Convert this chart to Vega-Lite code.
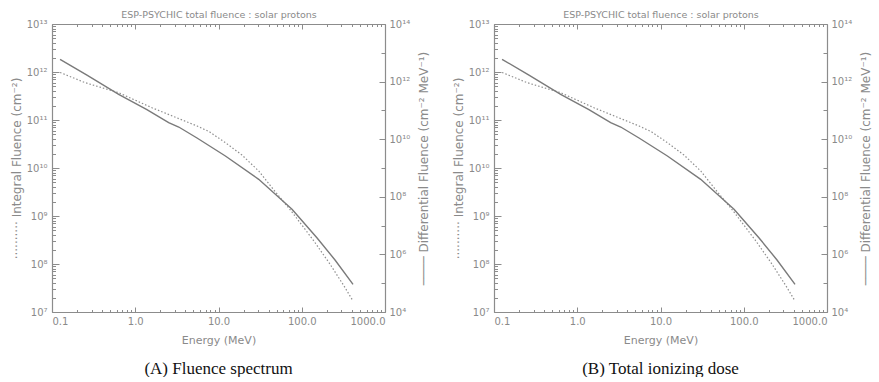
{
  "$schema": "https://vega.github.io/schema/vega-lite/v6.json",
  "background": "white",
  "padding": {"top": 9, "left": 10, "right": 0, "bottom": 0},
  "spacing": 22,
  "config": {
    "view": {"stroke": null},
    "font": "DejaVu Sans",
    "axis": {
      "domain": true,
      "domainColor": "#8c8c8c",
      "domainWidth": 1.2,
      "ticks": true,
      "tickColor": "#8c8c8c",
      "tickWidth": 1,
      "labelColor": "#8a8a8a",
      "titleColor": "#8a8a8a",
      "labelFont": "DejaVu Sans",
      "titleFont": "DejaVu Sans",
      "labelFontSize": 10,
      "titleFontWeight": "normal",
      "grid": false,
      "labelOverlap": false,
      "zindex": 1
    }
  },
  "datasets": {
    "curves": [
      {"series": "integral", "energy": 0.125, "fluence": 9.77e11},
      {"series": "integral", "energy": 0.251, "fluence": 5.98e11},
      {"series": "integral", "energy": 0.632, "fluence": 3.70e11},
      {"series": "integral", "energy": 1.59, "fluence": 1.80e11},
      {"series": "integral", "energy": 5.52, "fluence": 7.50e10},
      {"series": "integral", "energy": 7.69, "fluence": 5.75e10},
      {"series": "integral", "energy": 12.1, "fluence": 3.37e10},
      {"series": "integral", "energy": 19.1, "fluence": 1.87e10},
      {"series": "integral", "energy": 30.4, "fluence": 8.66e9},
      {"series": "integral", "energy": 48.1, "fluence": 3.2e9},
      {"series": "integral", "energy": 76.4, "fluence": 1.21e9},
      {"series": "integral", "energy": 140, "fluence": 3.01e8},
      {"series": "integral", "energy": 218, "fluence": 1.0e8},
      {"series": "integral", "energy": 322, "fluence": 3.48e7},
      {"series": "integral", "energy": 413, "fluence": 1.69e7},
      {"series": "differential", "energy": 0.125, "fluence": 5.95e12},
      {"series": "differential", "energy": 0.263, "fluence": 1.69e12},
      {"series": "differential", "energy": 0.632, "fluence": 3.62e11},
      {"series": "differential", "energy": 1.38, "fluence": 1.07e11},
      {"series": "differential", "energy": 2.52, "fluence": 3.74e10},
      {"series": "differential", "energy": 3.33, "fluence": 2.65e10},
      {"series": "differential", "energy": 5.52, "fluence": 1.10e10},
      {"series": "differential", "energy": 12.1, "fluence": 2.61e9},
      {"series": "differential", "energy": 30.4, "fluence": 4.05e8},
      {"series": "differential", "energy": 76.4, "fluence": 3.68e7},
      {"series": "differential", "energy": 152, "fluence": 3.80e6},
      {"series": "differential", "energy": 251, "fluence": 6.4e5},
      {"series": "differential", "energy": 413, "fluence": 9.16e4}
    ]
  },
  "hconcat": [
    {
      "width": 333,
      "height": 288,
      "title": {"text": "(A) Fluence spectrum", "orient": "bottom", "font": "Liberation Serif", "fontSize": 17, "fontWeight": "normal", "color": "#111111", "offset": 15},
      "data": {"name": "curves"},
      "layer": [
        {
          "transform": [{"filter": "datum.series == 'integral'"}],
          "mark": {"type": "line", "color": "#8f8f8f", "strokeDash": [1.5, 2], "strokeWidth": 1.2},
          "encoding": {
            "x": {
              "field": "energy", "type": "quantitative",
              "scale": {"type": "log", "domain": [0.1, 1000], "nice": false},
              "axis": {
                "orient": "bottom", "title": "Energy (MeV)", "titleFontSize": 11, "titlePadding": 6, "labelPadding": 9,
                "values": [0.1,0.2,0.3,0.4,0.5,0.6,0.7,0.8,0.9,1,2,3,4,5,6,7,8,9,10,20,30,40,50,60,70,80,90,100,200,300,400,500,600,700,800,900,1000],
                "labelExpr": "datum.value==0.1?'0.1':datum.value==1?'1.0':datum.value==10?'10.0':datum.value==100?'100.0':datum.value==1000?'1000.0':''",
                "tickSize": {"condition": {"test": "indexof([0.1,1,10,100,1000], datum.value) >= 0", "value": -5}, "value": -2.5}
              }
            },
            "y": {
              "field": "fluence", "type": "quantitative",
              "scale": {"type": "log", "domain": [1e7, 1e13], "nice": false},
              "axis": {
                "orient": "left", "title": "··········   Integral Fluence (cm⁻²)", "titleFontSize": 12, "titleAngle": 270, "titlePadding": 3, "labelPadding": 12,
                "values": [1e7,2e7,3e7,4e7,5e7,6e7,7e7,8e7,9e7,1e8,2e8,3e8,4e8,5e8,6e8,7e8,8e8,9e8,1e9,2e9,3e9,4e9,5e9,6e9,7e9,8e9,9e9,1e10,2e10,3e10,4e10,5e10,6e10,7e10,8e10,9e10,1e11,2e11,3e11,4e11,5e11,6e11,7e11,8e11,9e11,1e12,2e12,3e12,4e12,5e12,6e12,7e12,8e12,9e12,1e13],
                "labelExpr": "datum.value==1e7?'10⁷':datum.value==1e8?'10⁸':datum.value==1e9?'10⁹':datum.value==1e10?'10¹⁰':datum.value==1e11?'10¹¹':datum.value==1e12?'10¹²':datum.value==1e13?'10¹³':''",
                "tickSize": {"condition": {"test": "indexof([1e7,1e8,1e9,1e10,1e11,1e12,1e13], datum.value) >= 0", "value": -7}, "value": -3.5}
              }
            }
          }
        },
        {
          "transform": [{"filter": "datum.series == 'differential'"}],
          "mark": {"type": "line", "color": "#7a7a7a", "strokeWidth": 1.4},
          "encoding": {
            "x": {
              "field": "energy", "type": "quantitative",
              "scale": {"type": "log", "domain": [0.1, 1000], "nice": false},
              "axis": {
                "orient": "top", "title": "ESP-PSYCHIC total fluence : solar protons", "titleFontSize": 9.5, "titlePadding": 4, "labels": false,
                "values": [0.1,0.2,0.3,0.4,0.5,0.6,0.7,0.8,0.9,1,2,3,4,5,6,7,8,9,10,20,30,40,50,60,70,80,90,100,200,300,400,500,600,700,800,900,1000],
                "tickSize": {"condition": {"test": "indexof([0.1,1,10,100,1000], datum.value) >= 0", "value": -5}, "value": -2.5}
              }
            },
            "y": {
              "field": "fluence", "type": "quantitative",
              "scale": {"type": "log", "domain": [1e4, 1e14], "nice": false},
              "axis": {
                "orient": "right", "title": "────   Differential Fluence (cm⁻² MeV⁻¹)", "titleFontSize": 12, "titleAngle": 270, "titleBaseline": "top", "titlePadding": 9, "labelPadding": 10,
                "values": [1e4,1e5,1e6,1e7,1e8,1e9,1e10,1e11,1e12,1e13,1e14],
                "labelExpr": "datum.value==1e4?'10⁴':datum.value==1e6?'10⁶':datum.value==1e8?'10⁸':datum.value==1e10?'10¹⁰':datum.value==1e12?'10¹²':datum.value==1e14?'10¹⁴':''",
                "tickSize": {"condition": {"test": "indexof([1e4,1e6,1e8,1e10,1e12,1e14], datum.value) >= 0", "value": -6}, "value": -4}
              }
            }
          }
        }
      ],
      "resolve": {"scale": {"y": "independent"}, "axis": {"x": "independent", "y": "independent"}}
    },
    {
      "width": 333,
      "height": 288,
      "title": {"text": "(B) Total ionizing dose", "orient": "bottom", "font": "Liberation Serif", "fontSize": 17, "fontWeight": "normal", "color": "#111111", "offset": 15},
      "data": {"name": "curves"},
      "layer": [
        {
          "transform": [{"filter": "datum.series == 'integral'"}],
          "mark": {"type": "line", "color": "#8f8f8f", "strokeDash": [1.5, 2], "strokeWidth": 1.2},
          "encoding": {
            "x": {
              "field": "energy", "type": "quantitative",
              "scale": {"type": "log", "domain": [0.1, 1000], "nice": false},
              "axis": {
                "orient": "bottom", "title": "Energy (MeV)", "titleFontSize": 11, "titlePadding": 6, "labelPadding": 9,
                "values": [0.1,0.2,0.3,0.4,0.5,0.6,0.7,0.8,0.9,1,2,3,4,5,6,7,8,9,10,20,30,40,50,60,70,80,90,100,200,300,400,500,600,700,800,900,1000],
                "labelExpr": "datum.value==0.1?'0.1':datum.value==1?'1.0':datum.value==10?'10.0':datum.value==100?'100.0':datum.value==1000?'1000.0':''",
                "tickSize": {"condition": {"test": "indexof([0.1,1,10,100,1000], datum.value) >= 0", "value": -5}, "value": -2.5}
              }
            },
            "y": {
              "field": "fluence", "type": "quantitative",
              "scale": {"type": "log", "domain": [1e7, 1e13], "nice": false},
              "axis": {
                "orient": "left", "title": "··········   Integral Fluence (cm⁻²)", "titleFontSize": 12, "titleAngle": 270, "titlePadding": 3, "labelPadding": 12,
                "values": [1e7,2e7,3e7,4e7,5e7,6e7,7e7,8e7,9e7,1e8,2e8,3e8,4e8,5e8,6e8,7e8,8e8,9e8,1e9,2e9,3e9,4e9,5e9,6e9,7e9,8e9,9e9,1e10,2e10,3e10,4e10,5e10,6e10,7e10,8e10,9e10,1e11,2e11,3e11,4e11,5e11,6e11,7e11,8e11,9e11,1e12,2e12,3e12,4e12,5e12,6e12,7e12,8e12,9e12,1e13],
                "labelExpr": "datum.value==1e7?'10⁷':datum.value==1e8?'10⁸':datum.value==1e9?'10⁹':datum.value==1e10?'10¹⁰':datum.value==1e11?'10¹¹':datum.value==1e12?'10¹²':datum.value==1e13?'10¹³':''",
                "tickSize": {"condition": {"test": "indexof([1e7,1e8,1e9,1e10,1e11,1e12,1e13], datum.value) >= 0", "value": -7}, "value": -3.5}
              }
            }
          }
        },
        {
          "transform": [{"filter": "datum.series == 'differential'"}],
          "mark": {"type": "line", "color": "#7a7a7a", "strokeWidth": 1.4},
          "encoding": {
            "x": {
              "field": "energy", "type": "quantitative",
              "scale": {"type": "log", "domain": [0.1, 1000], "nice": false},
              "axis": {
                "orient": "top", "title": "ESP-PSYCHIC total fluence : solar protons", "titleFontSize": 9.5, "titlePadding": 4, "labels": false,
                "values": [0.1,0.2,0.3,0.4,0.5,0.6,0.7,0.8,0.9,1,2,3,4,5,6,7,8,9,10,20,30,40,50,60,70,80,90,100,200,300,400,500,600,700,800,900,1000],
                "tickSize": {"condition": {"test": "indexof([0.1,1,10,100,1000], datum.value) >= 0", "value": -5}, "value": -2.5}
              }
            },
            "y": {
              "field": "fluence", "type": "quantitative",
              "scale": {"type": "log", "domain": [1e4, 1e14], "nice": false},
              "axis": {
                "orient": "right", "title": "────   Differential Fluence (cm⁻² MeV⁻¹)", "titleFontSize": 12, "titleAngle": 270, "titleBaseline": "top", "titlePadding": 9, "labelPadding": 10,
                "values": [1e4,1e5,1e6,1e7,1e8,1e9,1e10,1e11,1e12,1e13,1e14],
                "labelExpr": "datum.value==1e4?'10⁴':datum.value==1e6?'10⁶':datum.value==1e8?'10⁸':datum.value==1e10?'10¹⁰':datum.value==1e12?'10¹²':datum.value==1e14?'10¹⁴':''",
                "tickSize": {"condition": {"test": "indexof([1e4,1e6,1e8,1e10,1e12,1e14], datum.value) >= 0", "value": -6}, "value": -4}
              }
            }
          }
        }
      ],
      "resolve": {"scale": {"y": "independent"}, "axis": {"x": "independent", "y": "independent"}}
    }
  ]
}
